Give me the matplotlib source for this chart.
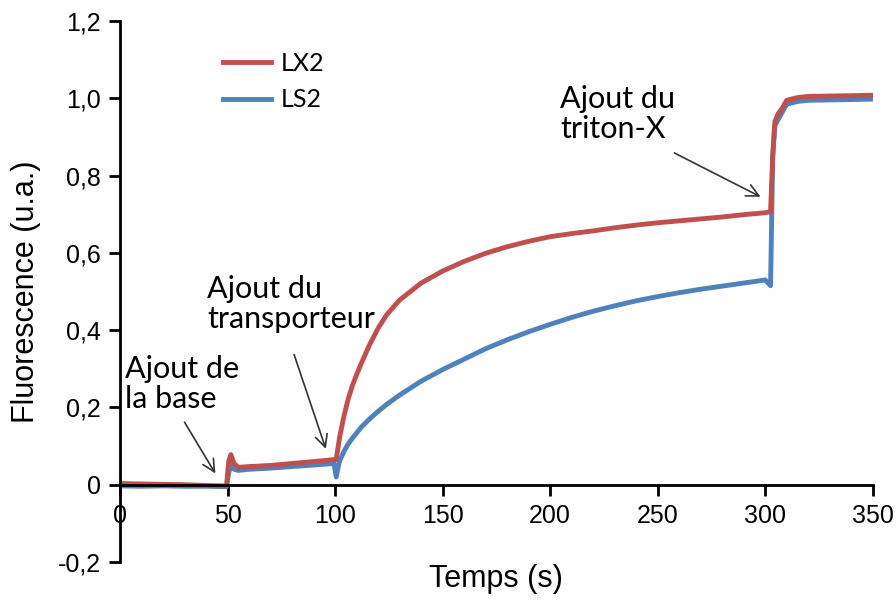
import matplotlib
matplotlib.use("Agg")
import matplotlib.pyplot as plt
from matplotlib.ticker import FuncFormatter

# --- Données ---
t_lx2 = [0, 10, 20, 30, 40, 49.5, 50.5, 51.5, 53, 55, 60, 70, 80, 90, 99.5,
         100.5, 102, 104, 106, 108, 110, 112, 116, 120, 124, 130, 140, 150,
         160, 170, 180, 190, 200, 210, 220, 230, 240, 250, 260, 270, 280, 290,
         300, 302.5, 303.5, 304.5, 306, 308, 310, 315, 320, 330, 340, 349]
lx2 = [0.003, 0.002, 0.001, 0.0, -0.002, -0.003, 0.06, 0.078, 0.055, 0.045,
       0.047, 0.05, 0.055, 0.06, 0.065, 0.065, 0.12, 0.175, 0.22, 0.256,
       0.285, 0.312, 0.362, 0.405, 0.44, 0.478, 0.522, 0.553, 0.578, 0.599,
       0.616, 0.63, 0.642, 0.65, 0.657, 0.665, 0.672, 0.678, 0.683, 0.688,
       0.693, 0.699, 0.704, 0.707, 0.85, 0.94, 0.96, 0.975, 0.995, 1.002,
       1.005, 1.006, 1.007, 1.008]

t_ls2 = [0, 10, 20, 30, 40, 49.5, 50.5, 51.5, 53, 55, 60, 70, 80, 90, 99.5,
         100.5, 102, 104, 106, 108, 112, 116, 120, 124, 130, 140, 150, 160,
         170, 180, 190, 200, 210, 220, 230, 240, 250, 260, 270, 280, 290, 300,
         302.5, 303.5, 304.5, 306, 308, 310, 315, 320, 330, 340, 349]
ls2 = [-0.003, -0.004, -0.003, -0.004, -0.004, -0.005, 0.03, 0.05, 0.04,
       0.037, 0.04, 0.043, 0.047, 0.051, 0.055, 0.02, 0.06, 0.085, 0.105,
       0.12, 0.148, 0.17, 0.19, 0.208, 0.232, 0.268, 0.298, 0.325, 0.352,
       0.375, 0.396, 0.415, 0.433, 0.449, 0.463, 0.476, 0.487, 0.497, 0.506,
       0.514, 0.522, 0.53, 0.515, 0.85, 0.93, 0.945, 0.965, 0.985, 0.992,
       0.995, 0.996, 0.997, 0.998]

x_ticks = [0, 50, 100, 150, 200, 250, 300, 350]
y_ticks = [-0.2, 0, 0.2, 0.4, 0.6, 0.8, 1.0, 1.2]

# (texte, position du texte, départ flèche, pointe flèche)
annotations = [
    ("Ajout de\nla base", (2.3, 0.336), (29.3, 0.168), (45.0, 0.023)),
    ("Ajout du\ntransporteur", (40.4, 0.543), (80.5, 0.344), (96.1, 0.086)),
    ("Ajout du\ntriton-X", (204.6, 1.035), (256.6, 0.862), (299.0, 0.742)),
]

red = "#C0504D"
blue = "#4F81BD"

fig = plt.figure(figsize=(8.96, 6.03), dpi=100)
ax = fig.add_axes([0.134, 0.068, 0.840, 0.897])

ax.plot(t_ls2, ls2, color=blue, lw=3.5, label="LS2", solid_joinstyle="round")
ax.plot(t_lx2, lx2, color=red, lw=3.5, label="LX2", solid_joinstyle="round")

ax.set_xlim(0, 350)
ax.set_ylim(-0.2, 1.2)
ax.spines["top"].set_visible(False)
ax.spines["right"].set_visible(False)
ax.spines["bottom"].set_position(("data", 0))
ax.spines["left"].set_linewidth(2)
ax.spines["bottom"].set_linewidth(2)
ax.set_xticks(x_ticks)
ax.set_yticks(y_ticks)
ax.tick_params(axis="both", direction="out", length=8, width=2,
               labelsize=18, pad=6)
ax.yaxis.set_major_formatter(FuncFormatter(
    lambda v, p: "0" if abs(v) < 1e-9 else f"{v:.1f}".replace(".", ",")))
for lab in ax.get_xticklabels() + ax.get_yticklabels():
    lab.set_fontfamily("Liberation Sans")

ax.set_xlabel("Temps (s)", fontsize=22, family="Liberation Sans")
ax.set_ylabel("Fluorescence (u.a.)", fontsize=22, family="Liberation Sans")
ax.xaxis.set_label_coords(0.5, -0.004)
ax.yaxis.set_label_coords(-0.105, 0.5)

handles, labels = ax.get_legend_handles_labels()
leg = ax.legend(handles[::-1], labels[::-1], frameon=False, loc="upper left",
                bbox_to_anchor=(0.107, 0.985), handlelength=1.9,
                handletextpad=0.4, labelspacing=0.55,
                prop={"family": "Lato", "size": 18})

for txt, pos, start, tip in annotations:
    ax.text(pos[0], pos[1], txt, ha="left", va="top", fontsize=22,
            family="Lato", linespacing=1.1)
    ax.annotate("", xy=tip, xytext=start,
                arrowprops=dict(arrowstyle="->", color="#333333", lw=1.2,
                                mutation_scale=22))

fig.savefig("out.png", dpi=100)
